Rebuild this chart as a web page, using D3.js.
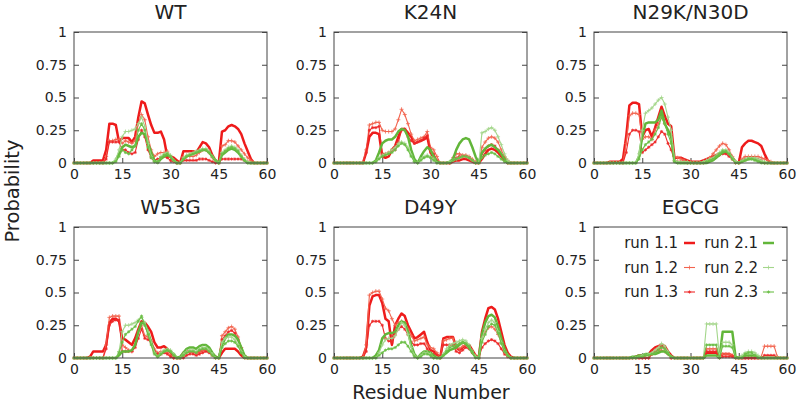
<!DOCTYPE html>
<html><head><meta charset="utf-8">
<script src="https://cdn.jsdelivr.net/npm/d3@7"></script>
<style>body{margin:0;background:#fff}svg{display:block}text{font-family:"DejaVu Sans",sans-serif;fill:#222}</style>
</head><body><svg id="c" width="800" height="405"></svg>
<script>
const panels = ["WT","K24N","N29K/N30D","W53G","D49Y","EGCG"];
const seriesNames = ["run 1.1","run 1.2","run 1.3","run 2.1","run 2.2","run 2.3"];
const xTicks = [0,15,30,45,60];
const yTicks = [0,0.25,0.5,0.75,1];
const yTickLabels = ["0","0.25","0.5","0.75","1"];

// residue 0..60
const wt11=[0,0,0,0,0,0,0.02,0.02,0.02,0.02, 0.1,0.3,0.3,0.29,0.16,0.19,0.19,0.19,0.16,0.2, 0.35,0.47,0.455,0.37,0.29,0.23,0.23,0.24,0.18,0.05, 0.05,0.04,0.02,0,0.09,0.09,0.09,0.09,0.08,0.12, 0.16,0.15,0.12,0.06,0.02,0,0.24,0.25,0.28,0.29, 0.28,0.26,0.22,0.15,0.09,0.03,0,0,0,0,0];
const wt12=[0,0,0,0,0,0,0,0,0,0, 0.05,0.17,0.17,0.18,0.18,0.15,0.17,0.16,0.15,0.17, 0.3,0.37,0.33,0.2,0.1,0.05,0.07,0.08,0.08,0.09, 0.05,0.02,0,0,0.05,0.05,0.05,0.05,0.06,0.08, 0.1,0.1,0.08,0.04,0.01,0,0.13,0.14,0.17,0.17, 0.16,0.13,0.1,0.07,0.04,0.02,0,0,0,0,0];
const wt13=[0,0,0,0,0,0,0,0,0,0, 0.03,0.16,0.16,0.16,0.16,0.1,0.1,0.08,0.07,0.08, 0.18,0.25,0.2,0.1,0.04,0.02,0.03,0.04,0.05,0.04, 0.02,0.01,0,0,0.02,0.02,0.02,0.02,0.02,0.03, 0.03,0.03,0.02,0.01,0,0,0.03,0.03,0.03,0.03, 0.03,0.03,0.03,0.02,0.01,0,0,0,0,0,0];
const wt21=[0,0,0,0,0,0,0,0,0,0, 0,0,0,0.02,0.07,0.12,0.14,0.13,0.12,0.13, 0.2,0.23,0.22,0.15,0.08,0.02,0,0.03,0.05,0.06, 0.05,0.02,0,0,0.03,0.05,0.06,0.07,0.08,0.09, 0.1,0.1,0.08,0.05,0.02,0,0.06,0.08,0.1,0.11, 0.1,0.08,0.05,0.02,0,0,0,0,0,0,0];
const wt22=[0,0,0,0,0,0,0,0,0,0, 0,0,0,0.03,0.1,0.2,0.24,0.24,0.25,0.26, 0.3,0.35,0.28,0.15,0.05,0.01,0.01,0.05,0.07,0.08, 0.06,0.02,0,0,0.04,0.06,0.07,0.08,0.09,0.1, 0.11,0.11,0.09,0.05,0.02,0,0.08,0.1,0.12,0.13, 0.12,0.1,0.06,0.03,0.01,0,0,0,0,0,0];
const wt23=[0,0,0,0,0,0,0,0,0,0, 0,0,0,0.01,0.05,0.1,0.08,0.07,0.1,0.13, 0.25,0.3,0.25,0.12,0.04,0.01,0.01,0.04,0.06,0.07, 0.05,0.02,0,0,0.03,0.05,0.06,0.07,0.08,0.09, 0.1,0.1,0.08,0.05,0.02,0,0.07,0.09,0.11,0.12, 0.11,0.09,0.05,0.02,0,0,0,0,0,0,0];

const k11=[0,0,0,0,0,0,0,0,0,0, 0.08,0.2,0.23,0.23,0.22,0.05,0.04,0.05,0.1,0.13, 0.2,0.26,0.26,0.23,0.2,0.15,0.16,0.17,0.18,0.2, 0.08,0.04,0.01,0,0,0,0,0.01,0.02,0.02, 0.03,0.03,0.02,0.01,0,0,0.03,0.07,0.1,0.11, 0.1,0.08,0.05,0.02,0,0,0,0,0,0,0];
const k12=[0,0,0,0,0,0,0,0,0,0, 0.1,0.29,0.3,0.31,0.31,0.25,0.24,0.24,0.24,0.26, 0.33,0.41,0.37,0.3,0.22,0.17,0.18,0.19,0.2,0.24, 0.12,0.1,0.05,0,0,0,0,0.04,0.07,0.07, 0.06,0.06,0.05,0.03,0.01,0,0.12,0.16,0.19,0.2, 0.19,0.16,0.1,0.05,0.02,0,0,0,0,0,0];
const k13=[0,0,0,0,0,0,0,0,0,0, 0.08,0.25,0.27,0.27,0.28,0.07,0.07,0.08,0.1,0.1, 0.16,0.25,0.26,0.2,0.17,0.15,0.16,0.17,0.19,0.21, 0.1,0.07,0.02,0,0,0,0,0.02,0.04,0.05, 0.05,0.05,0.04,0.02,0,0,0.07,0.1,0.13,0.14, 0.13,0.1,0.06,0.03,0,0,0,0,0,0,0];
const k21=[0,0,0,0,0,0,0,0,0,0, 0,0,0,0.02,0.08,0.15,0.17,0.18,0.18,0.2, 0.24,0.26,0.25,0.2,0.1,0.03,0,0.05,0.09,0.12, 0.1,0.05,0.01,0,0,0,0.01,0.03,0.1,0.15, 0.18,0.19,0.18,0.12,0.05,0,0.08,0.11,0.13,0.14, 0.12,0.1,0.07,0.03,0,0,0,0,0,0,0];
const k22=[0,0,0,0,0,0,0,0,0,0, 0,0,0,0.01,0.04,0.06,0.07,0.08,0.1,0.12, 0.15,0.16,0.15,0.12,0.06,0.01,0,0.03,0.05,0.06, 0.05,0.03,0,0,0,0,0.01,0.02,0.03,0.04, 0.05,0.05,0.04,0.02,0,0,0.23,0.24,0.26,0.27, 0.25,0.2,0.14,0.07,0.02,0,0,0,0,0,0];
const k23=[0,0,0,0,0,0,0,0,0,0, 0,0,0,0.01,0.03,0.05,0.06,0.07,0.08,0.1, 0.13,0.15,0.14,0.1,0.05,0.01,0,0.02,0.04,0.05, 0.04,0.02,0,0,0,0,0,0.02,0.03,0.04, 0.05,0.05,0.04,0.02,0,0,0.04,0.06,0.07,0.08, 0.07,0.05,0.03,0.01,0,0,0,0,0,0,0];

const n11=[0,0,0,0,0,0.01,0.01,0.01,0.01,0.03, 0.2,0.44,0.46,0.46,0.45,0.2,0.25,0.26,0.2,0.27, 0.35,0.43,0.36,0.3,0.28,0.04,0.04,0.04,0.03,0.02, 0.01,0.01,0.01,0.01,0.02,0.03,0.04,0.05,0.06,0.07, 0.08,0.08,0.07,0.04,0.01,0,0.12,0.15,0.17,0.17, 0.16,0.15,0.13,0.07,0.02,0,0,0,0,0,0];
const n12=[0,0,0,0,0,0,0,0,0,0, 0.15,0.36,0.38,0.38,0.37,0.18,0.2,0.2,0.18,0.25, 0.3,0.35,0.3,0.25,0.22,0.05,0.04,0.03,0.02,0.01, 0.01,0,0,0,0.01,0.02,0.04,0.07,0.1,0.13, 0.15,0.14,0.1,0.05,0.01,0,0.03,0.05,0.05,0.05, 0.05,0.05,0.04,0.03,0.02,0.01,0,0,0,0,0];
const n13=[0,0,0,0,0,0,0,0,0,0, 0.08,0.22,0.25,0.25,0.24,0.08,0.1,0.12,0.14,0.16, 0.2,0.24,0.22,0.15,0.1,0.02,0.01,0.01,0.01,0, 0,0,0,0,0,0.01,0.02,0.03,0.05,0.06, 0.07,0.07,0.05,0.03,0,0,0.02,0.03,0.04,0.04, 0.04,0.03,0.02,0,0,0,0,0,0,0,0];
const n21=[0,0,0,0,0,0,0,0,0,0, 0,0,0,0,0.05,0.2,0.3,0.31,0.31,0.31, 0.33,0.4,0.3,0.25,0.2,0.01,0,0,0,0, 0,0,0,0,0,0,0.01,0.02,0.04,0.06, 0.08,0.09,0.07,0.04,0.01,0,0.01,0.02,0.03,0.03, 0.03,0.02,0.01,0,0,0,0,0,0,0,0];
const n22=[0,0,0,0,0,0,0,0,0,0, 0,0,0,0,0.07,0.25,0.38,0.4,0.42,0.45, 0.48,0.5,0.45,0.35,0.25,0.02,0.01,0.01,0.01,0.01, 0,0,0,0,0.01,0.02,0.03,0.04,0.06,0.08, 0.1,0.1,0.08,0.04,0.01,0,0.02,0.03,0.04,0.04, 0.04,0.03,0.02,0.01,0,0,0,0,0,0,0];
const n23=[0,0,0,0,0,0,0,0,0,0, 0,0,0,0,0.03,0.1,0.14,0.16,0.18,0.22, 0.27,0.35,0.3,0.22,0.15,0.01,0,0,0,0, 0,0,0,0,0,0.01,0.02,0.03,0.05,0.07, 0.09,0.09,0.07,0.03,0,0,0.01,0.02,0.03,0.03, 0.02,0.01,0,0,0,0,0,0,0,0,0];

const w11=[0,0,0,0,0,0.01,0.05,0.05,0.05,0.05, 0.1,0.27,0.3,0.3,0.28,0.15,0.14,0.12,0.1,0.15, 0.22,0.28,0.27,0.24,0.2,0.12,0.08,0.08,0.09,0.07, 0.04,0.02,0,0,0.04,0.05,0.05,0.05,0.04,0.05, 0.06,0.06,0.05,0.03,0.01,0,0.04,0.07,0.07,0.07, 0.07,0.05,0.02,0,0,0,0,0,0,0,0];
const w12=[0,0,0,0,0,0,0,0,0,0, 0.1,0.31,0.32,0.32,0.32,0.1,0.08,0.06,0.05,0.1, 0.2,0.25,0.17,0.16,0.13,0.07,0.04,0.05,0.05,0.04, 0.02,0,0,0,0.02,0.04,0.05,0.05,0.04,0.04, 0.06,0.06,0.05,0.03,0,0,0.17,0.2,0.23,0.24, 0.22,0.16,0.08,0.02,0,0,0,0,0,0,0];
const w13=[0,0,0,0,0,0,0,0,0,0, 0.07,0.25,0.28,0.29,0.29,0.05,0.05,0.05,0.05,0.08, 0.15,0.22,0.15,0.14,0.12,0.05,0.03,0.03,0.04,0.03, 0.01,0,0,0,0,0.02,0.03,0.03,0.02,0.03, 0.04,0.05,0.04,0.02,0,0,0.14,0.17,0.2,0.21, 0.19,0.14,0.07,0.01,0,0,0,0,0,0,0];
const w21=[0,0,0,0,0,0,0,0,0,0, 0,0,0,0,0.02,0.05,0.05,0.05,0.06,0.1, 0.2,0.27,0.26,0.2,0.12,0.04,0.01,0.03,0.05,0.06, 0.05,0.03,0,0.01,0.04,0.07,0.08,0.08,0.07,0.09, 0.1,0.1,0.08,0.04,0.01,0,0.1,0.15,0.18,0.18, 0.17,0.14,0.08,0.02,0,0,0,0,0,0,0];
const w22=[0,0,0,0,0,0,0,0,0,0, 0,0,0,0,0.05,0.2,0.25,0.25,0.26,0.27, 0.29,0.31,0.27,0.2,0.12,0.04,0.01,0.04,0.06,0.07, 0.06,0.03,0,0,0.03,0.05,0.06,0.06,0.05,0.07, 0.08,0.08,0.06,0.03,0,0,0.12,0.15,0.16,0.16, 0.14,0.1,0.05,0.01,0,0,0,0,0,0,0];
const w23=[0,0,0,0,0,0,0,0,0,0, 0,0,0,0,0.04,0.12,0.18,0.2,0.22,0.24, 0.28,0.32,0.25,0.18,0.1,0.03,0.01,0.03,0.05,0.06, 0.05,0.02,0,0,0.02,0.04,0.05,0.05,0.04,0.06, 0.07,0.07,0.05,0.02,0,0,0.08,0.11,0.13,0.13, 0.12,0.09,0.04,0,0,0,0,0,0,0,0];

const d11=[0,0,0,0,0,0,0,0,0,0.01, 0.08,0.4,0.47,0.48,0.48,0.42,0.3,0.28,0.1,0.25, 0.3,0.34,0.32,0.25,0.2,0.15,0.16,0.18,0.2,0.12, 0.06,0.05,0.03,0,0.15,0.16,0.16,0.16,0.08,0.06, 0.08,0.1,0.1,0.06,0.02,0,0.2,0.3,0.38,0.39, 0.37,0.3,0.2,0.1,0.04,0.01,0,0,0,0,0];
const d12=[0,0,0,0,0,0,0,0,0,0, 0.1,0.48,0.5,0.51,0.51,0.45,0.38,0.36,0.3,0.25, 0.27,0.28,0.27,0.22,0.17,0.13,0.14,0.15,0.16,0.1, 0.08,0.07,0.04,0,0.13,0.14,0.15,0.15,0.08,0.07, 0.09,0.1,0.09,0.05,0.02,0,0.15,0.2,0.23,0.24, 0.22,0.18,0.12,0.06,0.02,0,0,0,0,0,0];
const d13=[0,0,0,0,0,0,0,0,0,0, 0.05,0.25,0.28,0.28,0.28,0.25,0.15,0.13,0.12,0.18, 0.22,0.24,0.22,0.18,0.12,0.1,0.1,0.11,0.11,0.07, 0.04,0.03,0.02,0,0.1,0.1,0.1,0.1,0.05,0.04, 0.06,0.08,0.07,0.04,0.01,0,0.08,0.11,0.13,0.14, 0.13,0.11,0.07,0.03,0.01,0,0,0,0,0,0];
const d21=[0,0,0,0,0,0,0,0,0,0, 0,0,0,0.02,0.06,0.15,0.18,0.19,0.19,0.2, 0.25,0.28,0.27,0.2,0.1,0.03,0,0.03,0.05,0.05, 0.04,0.02,0,0,0.02,0.04,0.06,0.07,0.08,0.1, 0.12,0.11,0.08,0.04,0.01,0,0.18,0.27,0.32,0.33, 0.31,0.24,0.15,0.07,0.02,0,0,0,0,0,0];
const d22=[0,0,0,0,0,0,0,0,0,0, 0,0,0,0,0.04,0.1,0.14,0.15,0.15,0.17, 0.22,0.27,0.25,0.18,0.08,0.02,0,0.02,0.04,0.04, 0.03,0,0,0,0.03,0.07,0.1,0.11,0.12,0.13, 0.14,0.13,0.1,0.05,0.01,0,0.15,0.22,0.27,0.29, 0.27,0.2,0.12,0.05,0.02,0,0,0,0,0,0];
const d23=[0,0,0,0,0,0,0,0,0,0, 0,0,0,0,0.02,0.04,0.06,0.07,0.07,0.08, 0.1,0.12,0.12,0.09,0.05,0.01,0,0.01,0.03,0.03, 0.02,0,0,0,0.02,0.05,0.08,0.09,0.1,0.11, 0.12,0.11,0.09,0.05,0,0,0.12,0.18,0.24,0.26, 0.25,0.19,0.11,0.05,0.02,0,0,0,0,0,0];

const e11=[0,0,0,0,0,0,0,0,0,0, 0,0,0,0.01,0.02,0.02,0.02,0.03,0.06,0.08, 0.09,0.1,0.09,0.05,0.02,0,0,0,0,0, 0,0,0,0,0,0.04,0.04,0.04,0.04,0.01, 0.03,0.03,0.03,0.02,0,0,0,0,0,0, 0,0,0,0,0,0,0,0,0,0,0];
const e12=[0,0,0,0,0,0,0,0,0,0, 0,0,0,0,0,0,0,0,0.03,0.04, 0.06,0.06,0.05,0.03,0,0,0,0,0,0, 0,0,0,0,0,0.07,0.07,0.07,0.07,0.01, 0.03,0.03,0.03,0.02,0,0,0,0,0,0, 0,0,0.01,0.09,0.09,0.09,0.09,0.01,0,0,0];
const e13=[0,0,0,0,0,0,0,0,0,0, 0,0,0,0,0,0,0,0,0.03,0.05, 0.07,0.09,0.08,0.04,0,0,0,0,0,0, 0,0,0,0,0,0.05,0.05,0.05,0.05,0, 0.01,0.01,0.01,0.01,0,0,0,0,0,0, 0,0,0,0.02,0.02,0.02,0.02,0,0,0,0];
const e21=[0,0,0,0,0,0,0,0,0,0, 0,0,0.01,0.01,0.02,0.02,0.03,0.03,0.03,0.03, 0.04,0.05,0.05,0.03,0.01,0,0,0,0,0, 0,0,0,0,0,0.02,0.02,0.02,0.02,0, 0.2,0.2,0.2,0.2,0.01,0,0.01,0.02,0.02,0.02, 0.02,0.01,0,0,0,0,0,0,0,0,0];
const e22=[0,0,0,0,0,0,0,0,0,0, 0,0,0,0,0.01,0.02,0.02,0.03,0.04,0.06, 0.08,0.11,0.09,0.05,0.01,0,0,0,0,0, 0,0,0,0,0,0.26,0.26,0.26,0.26,0.01, 0.12,0.12,0.12,0.1,0,0,0.02,0.04,0.05,0.05, 0.04,0.02,0,0,0,0,0,0,0,0,0];
const e23=[0,0,0,0,0,0,0,0,0,0, 0,0,0,0,0.01,0.01,0.02,0.02,0.03,0.04, 0.06,0.08,0.07,0.04,0.01,0,0,0,0,0, 0,0,0,0,0,0.1,0.1,0.1,0.1,0, 0.09,0.09,0.09,0.08,0,0,0,0.03,0.04,0.04, 0.02,0,0,0,0,0,0,0,0,0,0];

const panelData = [
  [wt11,wt12,wt13,wt21,wt22,wt23],
  [k11,k12,k13,k21,k22,k23],
  [n11,n12,n13,n21,n22,n23],
  [w11,w12,w13,w21,w22,w23],
  [d11,d12,d13,d21,d22,d23],
  [e11,e12,e13,e21,e22,e23]
];

const styles = [
  {color:"#ee1b1b", width:2.5, marker:null},
  {color:"#f2644f", width:1.1, marker:"plus"},
  {color:"#ee2a2a", width:1.1, marker:"dot"},
  {color:"#62b63a", width:2.5, marker:null},
  {color:"#a3d68a", width:1.1, marker:"plus"},
  {color:"#6cbf47", width:1.1, marker:"dot"}
];

const svg = d3.select("#c");
const colX = [74, 334, 594];
const rowY = [32, 227];
const W = 193, H = 131;

function marker(g, type, x, y, color){
  if(type==="plus"){
    g.append("path").attr("d",`M${x-2},${y}H${x+2}M${x},${y-2}V${y+2}`).attr("stroke",color).attr("stroke-width",0.8).attr("fill","none");
  } else if(type==="dot"){
    g.append("path").attr("d",`M${x-1.6},${y}H${x+1.6}M${x},${y-1.6}V${y+1.6}M${x-1.1},${y-1.1}L${x+1.1},${y+1.1}M${x-1.1},${y+1.1}L${x+1.1},${y-1.1}`).attr("stroke",color).attr("stroke-width",0.8).attr("fill","none");
  }
}

panels.forEach((name, p) => {
  const ox = colX[p%3], oy = rowY[Math.floor(p/3)];
  const g = svg.append("g").attr("transform",`translate(${ox},${oy})`);
  const x = d3.scaleLinear().domain([0,60]).range([0,W]);
  const y = d3.scaleLinear().domain([0,1]).range([H,0]);

  const yl = g.append("g").call(d3.axisLeft(y).tickValues(yTicks).tickFormat((d,i)=>yTickLabels[i]).tickSize(-5).tickPadding(7));
  const yr = g.append("g").attr("transform",`translate(${W},0)`).call(d3.axisRight(y).tickValues(yTicks).tickFormat("").tickSize(-5));
  const xb = g.append("g").attr("transform",`translate(0,${H})`).call(d3.axisBottom(x).tickValues(xTicks).tickSize(-5).tickPadding(6));
  [yl,yr,xb].forEach(a=>{
    a.select(".domain").remove();
    a.selectAll("line").attr("stroke","#444");
    a.selectAll("text").attr("font-size","14px").attr("font-family","DejaVu Sans").attr("fill","#222");
  });

  const line = d3.line().x((d,i)=>x(i)).y(d=>y(d));
  panelData[p].forEach((vals, s) => {
    const st = styles[s];
    g.append("path").datum(vals).attr("d",line).attr("fill","none")
      .attr("stroke",st.color).attr("stroke-width",st.width).attr("stroke-linejoin","round");
    if(st.marker){
      vals.forEach((v,i)=>marker(g, st.marker, x(i), y(v), st.color));
    }
  });

  g.append("rect").attr("x",0).attr("y",0).attr("width",W).attr("height",H)
    .attr("fill","none").attr("stroke","#444").attr("stroke-width",1);

  g.append("text").attr("x",W/2).attr("y",-13).attr("text-anchor","middle")
    .attr("font-size","20px").text(name);

  if(p===5){
    const lg = g.append("g");
    const cols = [{tx:84, lx:90}, {tx:164, lx:169}];
    seriesNames.forEach((nm, s) => {
      const c = cols[Math.floor(s/3)], r = s%3;
      const ly = 16 + r*24.5;
      lg.append("text").attr("x",c.tx).attr("y",ly+5).attr("text-anchor","end").attr("font-size","15px").text(nm);
      const st = styles[s];
      lg.append("line").attr("x1",c.lx).attr("x2",c.lx+11).attr("y1",ly).attr("y2",ly)
        .attr("stroke",st.color).attr("stroke-width",st.width);
      if(st.marker) marker(lg, st.marker, c.lx+5.5, ly, st.color);
    });
  }
});

svg.append("text").attr("x",431).attr("y",399).attr("text-anchor","middle").attr("font-size","19px").text("Residue Number");
svg.append("text").attr("transform","translate(19,191) rotate(-90)").attr("text-anchor","middle").attr("font-size","19.5px").text("Probability");
</script></body></html>
